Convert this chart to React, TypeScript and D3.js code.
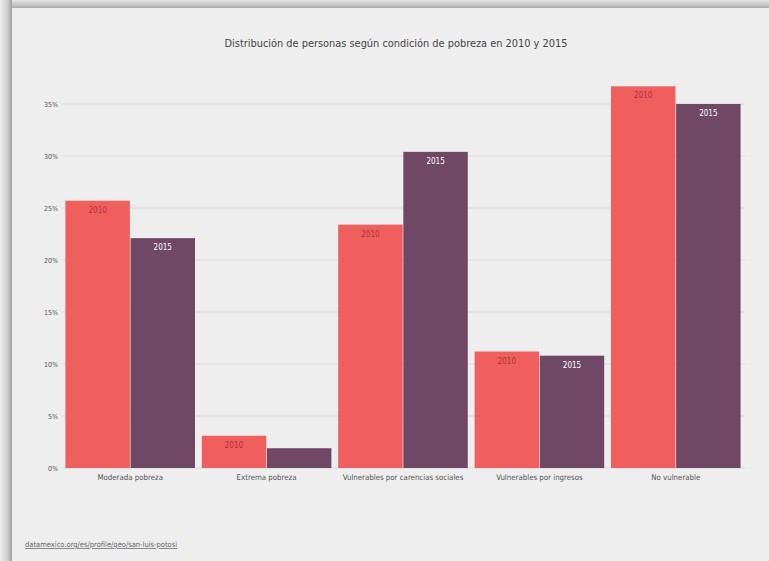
import React from "react";
import * as d3 from "d3";

const categories = [
  "Moderada pobreza",
  "Extrema pobreza",
  "Vulnerables por carencias sociales",
  "Vulnerables por ingresos",
  "No vulnerable",
];
const years = ["2010", "2015"];
const values2010 = [25.7, 3.1, 23.4, 11.2, 36.7];
const values2015 = [22.1, 1.9, 30.4, 10.8, 35.0];
const yTicks = [0, 5, 10, 15, 20, 25, 30, 35];
const title = "Distribución de personas según condición de pobreza en 2010 y 2015";
const source = "datamexico.org/es/profile/geo/san-luis-potosi";

const W = 769;
const H = 561;
const FONT = "'Liberation Sans Narrow', 'DejaVu Sans Condensed', 'Roboto', sans-serif";
const colors: Record<string, string> = { "2010": "#f05e5e", "2015": "#6f4866" };
const labelColors: Record<string, string> = { "2010": "#b3303a", "2015": "#ffffff" };

export default function App() {
  const x = d3.scaleBand<string>().domain(categories).range([62, 744]).paddingInner(0.05).paddingOuter(0.025);
  const xi = d3.scaleBand<string>().domain(years).range([0, x.bandwidth()]).paddingInner(0.01);
  const y = d3.scaleLinear().domain([0, 35]).range([468, 104]);
  const series: Record<string, number[]> = { "2010": values2010, "2015": values2015 };

  return (
    <div style={{ position: "absolute", left: 0, top: 0 }}>
      <svg width={W} height={H} style={{ display: "block" }}>
        <defs>
          <linearGradient id="lg" x1="0" x2="1" y1="0" y2="0">
            <stop offset="0" stopColor="#ececec" />
            <stop offset="0.6" stopColor="#cfcfcf" />
            <stop offset="1" stopColor="#a0a0a0" />
          </linearGradient>
          <linearGradient id="tg" x1="0" x2="0" y1="0" y2="1">
            <stop offset="0" stopColor="#e6e6e6" />
            <stop offset="0.4" stopColor="#d0d0d0" />
            <stop offset="1" stopColor="#acacac" />
          </linearGradient>
        </defs>
        <rect x={0} y={0} width={W} height={H} fill="#e4e4e4" />
        <rect x={0} y={0} width={W} height={8} fill="url(#tg)" />
        <rect x={0} y={0} width={12} height={H} fill="url(#lg)" />
        <rect x={12} y={8} width={W - 12} height={H - 8} fill="#eeeeee" />

        <text x={396} y={47} textAnchor="middle" fontFamily={FONT} fontSize={10.9} fill="#444">
          {title}
        </text>

        {yTicks.map((t) => (
          <g key={t}>
            <line x1={62} x2={745} y1={y(t)} y2={y(t)} stroke="#dcdcdc" strokeWidth={1} />
            <text x={58} y={y(t) + 3} textAnchor="end" fontFamily={FONT} fontSize={7} fill="#555">
              {t}%
            </text>
          </g>
        ))}

        {categories.map((c, i) => (
          <g key={c} transform={`translate(${x(c)},0)`}>
            {years.map((yr) => {
              const v = series[yr][i];
              const bx = xi(yr) as number;
              const top = y(v);
              const h = y(0) - top;
              return (
                <g key={yr}>
                  <rect x={bx} y={top} width={xi.bandwidth()} height={h} fill={colors[yr]} />
                  {h > 22 && (
                    <text
                      x={bx + xi.bandwidth() / 2}
                      y={top + 12}
                      textAnchor="middle"
                      fontFamily={FONT}
                      fontSize={8}
                      fill={labelColors[yr]}
                    >
                      {yr}
                    </text>
                  )}
                </g>
              );
            })}
            <text x={x.bandwidth() / 2} y={480} textAnchor="middle" fontFamily={FONT} fontSize={7.8} fill="#555">
              {c}
            </text>
          </g>
        ))}

        <text x={25} y={547} fontFamily={FONT} fontSize={7.5} fill="#666" textDecoration="underline">
          {source}
        </text>
      </svg>
    </div>
  );
}
